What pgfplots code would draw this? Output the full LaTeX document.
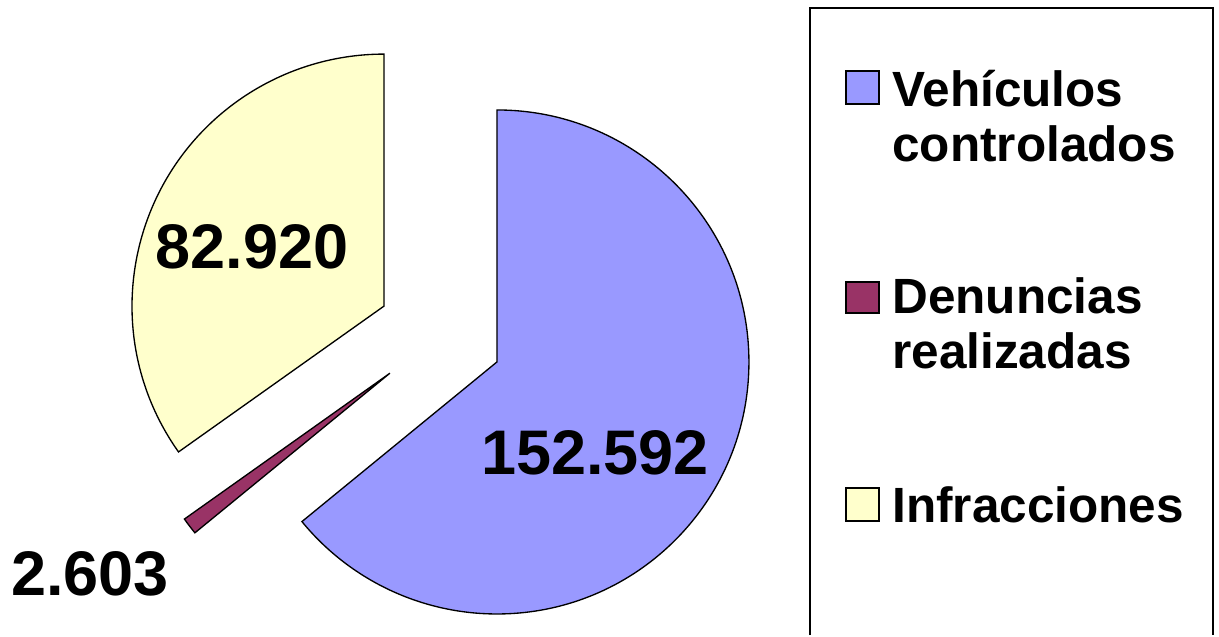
\documentclass[border=0pt]{standalone}
\usepackage{pgfplots}
\pgfplotsset{compat=1.18}
\usepackage{pgfplotstable}
\usepackage{fontspec}
\setmainfont{Liberation Sans}

\definecolor{vehic}{HTML}{9999FF}
\definecolor{denun}{HTML}{993366}
\definecolor{infra}{HTML}{FFFFCC}

% pie values
\pgfplotstableread{
serie valor
Vehiculos 152592
Denuncias 2603
Infracciones 82920
}\piedata

\pgfplotstablegetelem{0}{valor}\of\piedata\edef\vA{\pgfplotsretval}
\pgfplotstablegetelem{1}{valor}\of\piedata\edef\vB{\pgfplotsretval}
\pgfplotstablegetelem{2}{valor}\of\piedata\edef\vC{\pgfplotsretval}
\edef\tot{\fpeval{\vA+\vB+\vC}}
\edef\aA{\fpeval{90-360*\vA/\tot}}
\edef\aB{\fpeval{\aA-360*\vB/\tot}}

% exploded slice: start angle, end angle, colour (pixel units, centre 440,300)
\newcommand\slice[3]{%
  \edef\mid{\fpeval{(#1+#2)/2}}%
  \edef\vx{\fpeval{440+63*cosd(\mid)}}%
  \edef\vy{\fpeval{300+63*sind(\mid)}}%
  \edef\ox{\fpeval{\vx+252*cosd(#1)}}%
  \edef\oy{\fpeval{\vy+252*sind(#1)}}%
  \edef\tmp{\noexpand\filldraw[fill=#3, draw=black, line width=0.8pt]
    (axis cs:\vx,\vy) -- (axis cs:\ox,\oy)
    arc[start angle=#1, end angle=#2, radius=151.2pt] -- cycle;}%
  \tmp}

\begin{document}
\begin{tikzpicture}
\begin{axis}[
    x=0.6pt, y=0.6pt,
    xmin=0, xmax=1219, ymin=0, ymax=635,
    hide axis, clip=false,
]
\path (axis cs:0,0) rectangle (axis cs:1219,635);
\slice{90}{\aA}{vehic}
\slice{\aA}{\aB}{denun}
\slice{\aB}{-270}{infra}

\node[anchor=base, inner sep=0pt, font=\fontsize{37.8pt}{40pt}\selectfont\bfseries]
  at (axis cs:595,161) {152.592};
\node[anchor=base, inner sep=0pt, font=\fontsize{37.8pt}{40pt}\selectfont\bfseries]
  at (axis cs:252,367) {82.920};
\node[anchor=base, inner sep=0pt, font=\fontsize{37.8pt}{40pt}\selectfont\bfseries]
  at (axis cs:90,40) {2.603};

% legend
\draw[line width=1.2pt] (axis cs:810,0) -- (axis cs:810,627) -- (axis cs:1213,627) -- (axis cs:1213,0);
\filldraw[fill=vehic, draw=black, line width=1pt] (axis cs:846,531) rectangle (axis cs:879,564);
\filldraw[fill=denun, draw=black, line width=1pt] (axis cs:846,322) rectangle (axis cs:879,353);
\filldraw[fill=infra, draw=black, line width=1pt] (axis cs:846,114) rectangle (axis cs:879,147);
\begin{scope}[every node/.style={anchor=base west, inner sep=0pt, font=\fontsize{29.7pt}{33pt}\selectfont\bfseries}]
\node at (axis cs:892,528) {Vehículos};
\node at (axis cs:892,473) {controlados};
\node at (axis cs:892,322) {Denuncias};
\node at (axis cs:892,267) {realizadas};
\node at (axis cs:892,113) {Infracciones};
\end{scope}
\end{axis}
\end{tikzpicture}
\end{document}
